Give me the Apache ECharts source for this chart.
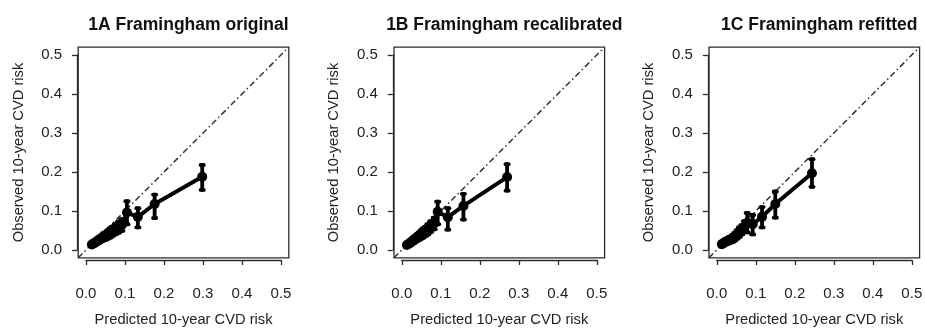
<!DOCTYPE html>
<html>
<head>
<meta charset="utf-8">
<script src="https://cdn.jsdelivr.net/npm/echarts@6/dist/echarts.min.js"></script>
<style>
html,body{margin:0;padding:0;background:#fff;}
#chart{width:925px;height:328px;}
</style>
</head>
<body>
<div id="chart"></div>
<script>
// ---- data ----
const panelTitles = ['1A Framingham original', '1B Framingham recalibrated', '1C Framingham refitted'];
const xAxisTitle = 'Predicted 10-year CVD risk';
const yAxisTitle = 'Observed 10-year CVD risk';
const tickValues = [0, 0.1, 0.2, 0.3, 0.4, 0.5];

// Panel A
const predA = [0.015, 0.020, 0.025, 0.030, 0.035, 0.040, 0.045, 0.050, 0.056, 0.062, 0.068, 0.075, 0.083, 0.092, 0.105, 0.133, 0.176, 0.298];
const obsA  = [0.014, 0.017, 0.020, 0.024, 0.027, 0.030, 0.034, 0.036, 0.040, 0.044, 0.048, 0.053, 0.058, 0.064, 0.096, 0.085, 0.118, 0.188];
const loA   = [0.009, 0.011, 0.014, 0.017, 0.019, 0.022, 0.025, 0.026, 0.029, 0.032, 0.036, 0.040, 0.044, 0.049, 0.066, 0.058, 0.082, 0.154];
const hiA   = [0.019, 0.023, 0.026, 0.031, 0.035, 0.038, 0.043, 0.046, 0.051, 0.056, 0.060, 0.066, 0.072, 0.079, 0.125, 0.107, 0.142, 0.218];

// Panel B
const predB = [0.013, 0.018, 0.022, 0.027, 0.031, 0.035, 0.040, 0.045, 0.050, 0.055, 0.061, 0.067, 0.074, 0.083, 0.092, 0.118, 0.158, 0.270];
const obsB  = [0.013, 0.016, 0.019, 0.023, 0.026, 0.029, 0.033, 0.036, 0.040, 0.044, 0.048, 0.053, 0.060, 0.068, 0.098, 0.084, 0.113, 0.187];
const loB   = [0.008, 0.010, 0.013, 0.016, 0.018, 0.021, 0.024, 0.026, 0.029, 0.032, 0.036, 0.040, 0.046, 0.053, 0.066, 0.052, 0.078, 0.152];
const hiB   = [0.018, 0.022, 0.025, 0.030, 0.034, 0.037, 0.042, 0.046, 0.051, 0.056, 0.060, 0.066, 0.074, 0.083, 0.124, 0.107, 0.144, 0.220];

// Panel C
const predC = [0.013, 0.018, 0.022, 0.027, 0.031, 0.036, 0.041, 0.046, 0.052, 0.058, 0.064, 0.071, 0.078, 0.092, 0.116, 0.150, 0.244];
const obsC  = [0.015, 0.018, 0.021, 0.023, 0.025, 0.027, 0.030, 0.034, 0.040, 0.046, 0.052, 0.060, 0.070, 0.066, 0.085, 0.118, 0.197];
const loC   = [0.010, 0.012, 0.015, 0.016, 0.017, 0.019, 0.021, 0.024, 0.029, 0.034, 0.040, 0.046, 0.045, 0.040, 0.058, 0.083, 0.162];
const hiC   = [0.020, 0.024, 0.027, 0.030, 0.033, 0.035, 0.039, 0.044, 0.051, 0.058, 0.064, 0.074, 0.095, 0.090, 0.110, 0.150, 0.233];

const panels = [
  {pred: predA, obs: obsA, lo: loA, hi: hiA},
  {pred: predB, obs: obsB, lo: loB, hi: hiB},
  {pred: predC, obs: obsC, lo: loC, hi: hiC}
];

// ---- layout ----
const boxLefts = [78.2, 394, 709];
const boxTop = 47.2, boxSize = 210.6;
const axMin = -0.02, axMax = 0.52;
const pxPerUnit = boxSize / (axMax - axMin);
const FONT = '"Liberation Sans", Arial, Helvetica, sans-serif';
const ink = '#2a2a2a';

const grid = [], xAxis = [], yAxis = [], series = [], title = [];

panels.forEach((p, i) => {
  const bl = boxLefts[i];
  grid.push({left: bl, top: boxTop, width: boxSize, height: boxSize, show: true,
    borderColor: ink, borderWidth: 1.3, backgroundColor: 'transparent',
    outerBoundsMode: 'none', containLabel: false});
  const off = (0 - axMin) * pxPerUnit;
  const span = 0.5 * pxPerUnit;
  grid.push({left: bl + off, top: boxTop + (axMax - 0.5) * pxPerUnit, width: span, height: span, show: false,
    outerBoundsMode: 'none', containLabel: false});

  const gBox = 2 * i, gAx = 2 * i + 1;
  xAxis.push({gridIndex: gBox, type: 'value', min: axMin, max: axMax, show: false});
  yAxis.push({gridIndex: gBox, type: 'value', min: axMin, max: axMax, show: false});
  xAxis.push({gridIndex: gAx, type: 'value', position: 'bottom', min: tickValues[0], max: tickValues[tickValues.length - 1], interval: 0.1, offset: 10,
    axisLine: {show: true, onZero: false, lineStyle: {color: ink, width: 1.3}},
    axisTick: {show: true, length: 5, lineStyle: {color: ink, width: 1.3}},
    axisLabel: {show: true, margin: 26, color: '#222', fontSize: 15, fontFamily: FONT,
      formatter: v => v.toFixed(1)},
    splitLine: {show: false},
    name: xAxisTitle, nameLocation: 'middle', nameGap: 52,
    nameTextStyle: {color: '#222', fontSize: 14.7, fontFamily: FONT}});
  yAxis.push({gridIndex: gAx, type: 'value', position: 'left', min: tickValues[0], max: tickValues[tickValues.length - 1], interval: 0.1, offset: 9,
    axisLine: {show: true, onZero: false, lineStyle: {color: ink, width: 1.3}},
    axisTick: {show: true, length: 5, lineStyle: {color: ink, width: 1.3}},
    axisLabel: {show: true, margin: 15, color: '#222', fontSize: 15, fontFamily: FONT,
      formatter: v => v.toFixed(1)},
    splitLine: {show: false},
    name: yAxisTitle, nameLocation: 'middle', nameGap: 51,
    nameTextStyle: {color: '#222', fontSize: 14.7, fontFamily: FONT}});

  const xi = 2 * i;
  series.push({type: 'line', xAxisIndex: xi, yAxisIndex: xi, data: [[axMin, axMin], [axMax, axMax]],
    showSymbol: false, silent: true, z: 1,
    lineStyle: {color: '#333', width: 1.5, type: [6, 3, 1.5, 3]}});
  series.push({type: 'custom', xAxisIndex: xi, yAxisIndex: xi, z: 3,
    data: p.pred.map((x, k) => [x, p.lo[k], p.hi[k]]),
    renderItem: (params, api) => {
      const x = api.value(0);
      const a = api.coord([x, api.value(1)]);
      const b = api.coord([x, api.value(2)]);
      const cap = 1.6;
      const st = {stroke: '#000', lineWidth: 3.8, lineCap: 'round'};
      return {type: 'group', children: [
        {type: 'line', shape: {x1: a[0], y1: a[1], x2: b[0], y2: b[1]}, style: st},
        {type: 'line', shape: {x1: a[0] - cap, y1: a[1], x2: a[0] + cap, y2: a[1]}, style: st},
        {type: 'line', shape: {x1: b[0] - cap, y1: b[1], x2: b[0] + cap, y2: b[1]}, style: st}
      ]};
    }});
  series.push({type: 'line', xAxisIndex: xi, yAxisIndex: xi, z: 4,
    data: p.pred.map((x, k) => [x, p.obs[k]]),
    symbol: 'circle', symbolSize: 10, showSymbol: true,
    itemStyle: {color: '#000'}, lineStyle: {color: '#000', width: 4}});

  title.push({text: panelTitles[i], left: bl + boxSize / 2, top: 11, textAlign: 'center',
    textStyle: {fontSize: 17.5, fontWeight: 'bold', color: '#111', fontFamily: FONT}});
});

const chart = echarts.init(document.getElementById('chart'), null, {renderer: 'canvas'});
chart.setOption({animation: false, backgroundColor: '#fff', title, grid, xAxis, yAxis, series});
</script>
</body>
</html>
